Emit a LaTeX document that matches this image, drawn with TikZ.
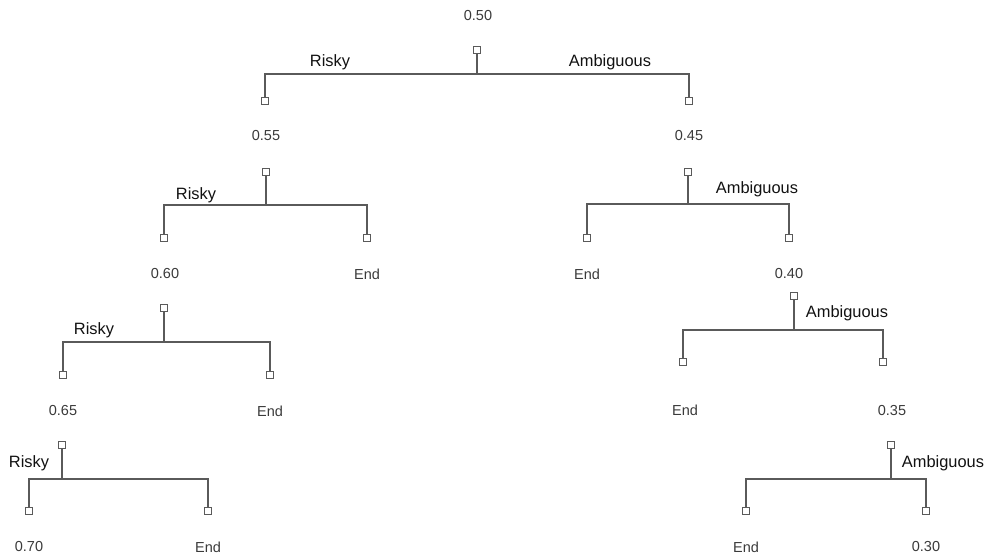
\documentclass[tikz,border=0pt]{standalone}
\usepackage{fontspec}
\setmainfont{Liberation Sans}
\definecolor{linec}{HTML}{5A5A5A}
\definecolor{numc}{HTML}{3A3A3A}
\definecolor{labc}{HTML}{111111}
\begin{document}
\begin{tikzpicture}[x=1pt,y=-1pt,
  sq/.style={draw=linec,fill=white,line width=0.9pt,minimum size=6.5pt,inner sep=0pt,shape=rectangle},
  conn/.style={draw=linec,line width=1.2pt},
  num/.style={text=numc,font=\fontsize{14.5}{16}\selectfont,inner sep=0pt},
  lab/.style={text=labc,font=\fontsize{16.4}{18}\selectfont,inner sep=0pt}]
\useasboundingbox (0,0) rectangle (989,557);
% top
\node[num] (t0) at (478,16) {0.50};
\node[sq] (s0) at (477,50) {};
\coordinate (b0) at (477,74);
\node[sq] (c1) at (265,101) {};
\node[sq] (c2) at (689,101) {};
\draw[conn] (s0.south) -- (b0);
\draw[conn] (c1.north) |- (b0) -| (c2.north);
\node[lab] (r0) at (330,62) {Risky};
\node[lab] (a0) at (610,62) {Ambiguous};
\node[num] (t1) at (266,136) {0.55};
\node[num] (t2) at (689,136) {0.45};
% level 1 left
\node[sq] (d1) at (266,172) {};
\coordinate (b1) at (266,205);
\node[sq] (c3) at (164,238) {};
\node[sq] (c4) at (367,238) {};
\draw[conn] (d1.south) -- (b1);
\draw[conn] (c3.north) |- (b1) -| (c4.north);
\node[lab] (r1) at (196,195) {Risky};
% level 1 right
\node[sq] (d2) at (688,172) {};
\coordinate (b2) at (688,204);
\node[sq] (c5) at (587,238) {};
\node[sq] (c6) at (789,238) {};
\draw[conn] (d2.south) -- (b2);
\draw[conn] (c5.north) |- (b2) -| (c6.north);
\node[lab] (a1) at (757,189) {Ambiguous};
\node[num] (t3) at (165,274) {0.60};
\node[num] (t4) at (367,274) {End};
\node[num] (t5) at (587,274) {End};
\node[num] (t6) at (789,274) {0.40};
% level 2 left
\node[sq] (d3) at (164,308) {};
\coordinate (b3) at (164,342);
\node[sq] (c7) at (63,375) {};
\node[sq] (c8) at (270,375) {};
\draw[conn] (d3.south) -- (b3);
\draw[conn] (c7.north) |- (b3) -| (c8.north);
\node[lab] (r2) at (94,330) {Risky};
% level 2 right
\node[sq] (d4) at (794,296) {};
\coordinate (b4) at (794,330);
\node[sq] (c9) at (683,362) {};
\node[sq] (c10) at (883,362) {};
\draw[conn] (d4.south) -- (b4);
\draw[conn] (c9.north) |- (b4) -| (c10.north);
\node[lab] (a2) at (847,313) {Ambiguous};
\node[num] (t7) at (63,411) {0.65};
\node[num] (t8) at (270,411) {End};
\node[num] (t9) at (685,410) {End};
\node[num] (t10) at (892,411) {0.35};
% level 3 left
\node[sq] (d5) at (62,445) {};
\coordinate (b5) at (62,479);
\node[sq] (c11) at (29,511) {};
\node[sq] (c12) at (208,511) {};
\draw[conn] (d5.south) -- (b5);
\draw[conn] (c11.north) |- (b5) -| (c12.north);
\node[lab] (r3) at (29,463) {Risky};
% level 3 right
\node[sq] (d6) at (891,445) {};
\coordinate (b6) at (891,479);
\node[sq] (c13) at (746,511) {};
\node[sq] (c14) at (926,511) {};
\draw[conn] (d6.south) -- (b6);
\draw[conn] (c13.north) |- (b6) -| (c14.north);
\node[lab] (a3) at (943,463) {Ambiguous};
\node[num] (t11) at (29,547) {0.70};
\node[num] (t12) at (208,547) {End};
\node[num] (t13) at (746,547) {End};
\node[num] (t14) at (926,547) {0.30};
\end{tikzpicture}
\end{document}
